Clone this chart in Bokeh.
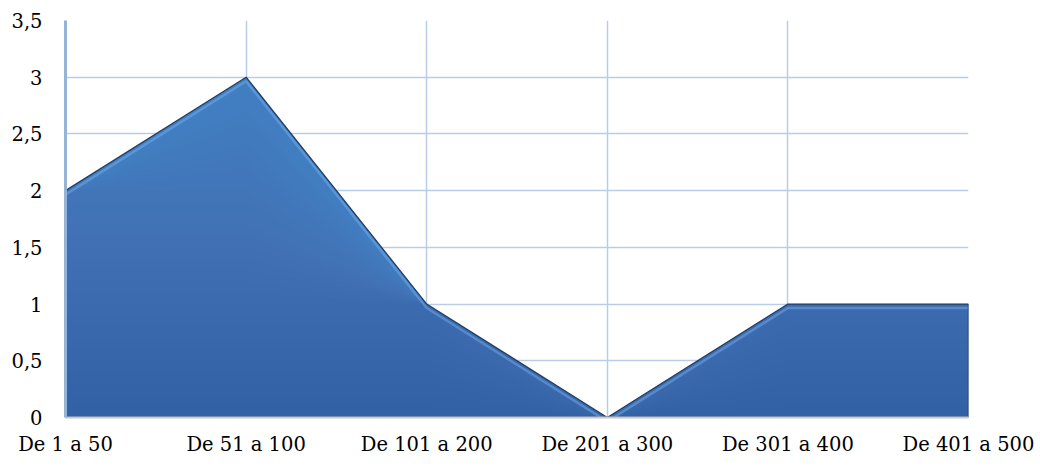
from bokeh.plotting import figure
from bokeh.embed import file_html
from bokeh.resources import INLINE
from bokeh.models import FixedTicker, Range1d, ColumnDataSource

categories = ["De 1 a 50", "De 51 a 100", "De 101 a 200", "De 201 a 300", "De 301 a 400", "De 401 a 500"]
values = [2, 3, 1, 0, 1, 1]
y_ticks = [0, 0.5, 1, 1.5, 2, 2.5, 3, 3.5]
y_labels = ["0", "0,5", "1", "1,5", "2", "2,5", "3", "3,5"]

xs = list(range(len(categories)))
src = ColumnDataSource(dict(x=xs, y=values, y0=[0] * len(xs)))

p = figure(width=1038, height=458, output_backend="svg", toolbar_location=None,
           x_range=Range1d(0, len(categories) - 1), y_range=Range1d(0, 3.5),
           min_border_left=65, min_border_right=70, min_border_top=20, min_border_bottom=31)
p.outline_line_color = None
p.background_fill_color = "white"

p.xgrid.grid_line_color = "#b9cde5"
p.ygrid.grid_line_color = "#b9cde5"
p.xgrid.grid_line_width = 1.5
p.ygrid.grid_line_width = 1.5

# base fill
p.varea(x="x", y1="y0", y2="y", source=src, fill_color="#3262a5")
# vertical shading: lighter towards the top
levels = [i * 0.1 for i in range(1, 31)]
for lv in levels:
    p.varea(x=xs, y1=[min(v, lv) for v in values], y2=values,
            fill_color="#5fa0ea", fill_alpha=0.03)

# bevel highlight just inside the top edge
p.line(x=xs, y=[v - 0.035 for v in values], line_color="#7ab2f2",
       line_width=2.5, line_alpha=0.45)

# outline of the area
p.line(x="x", y="y", source=src, line_color="#243f66", line_width=1.3)
p.line(x=[xs[-1], xs[-1]], y=[0, values[-1]], line_color="#243f66", line_width=1.5)
p.line(x=[xs[0], xs[-1]], y=[0, 0], line_color="#243f66", line_width=1.5)

p.xaxis.ticker = FixedTicker(ticks=xs)
p.xaxis.major_label_overrides = {i: c for i, c in enumerate(categories)}
p.yaxis.ticker = FixedTicker(ticks=y_ticks)
p.yaxis.major_label_overrides = {t: l for t, l in zip(y_ticks, y_labels)}

p.yaxis.axis_line_color = "#95b3d7"
p.yaxis.axis_line_width = 3
p.xaxis.axis_line_color = "#c8c8c8"
p.xaxis.axis_line_width = 2
for ax in (p.xaxis, p.yaxis):
    ax.major_tick_line_color = None
    ax.minor_tick_line_color = None
    ax.major_label_text_color = "black"
    ax.major_label_text_font = "DejaVu Serif"
    ax.major_label_text_font_size = "19.5px"
p.yaxis.major_label_standoff = 17
p.xaxis.major_label_standoff = 9

open("out.html", "w").write(file_html(p, INLINE))
